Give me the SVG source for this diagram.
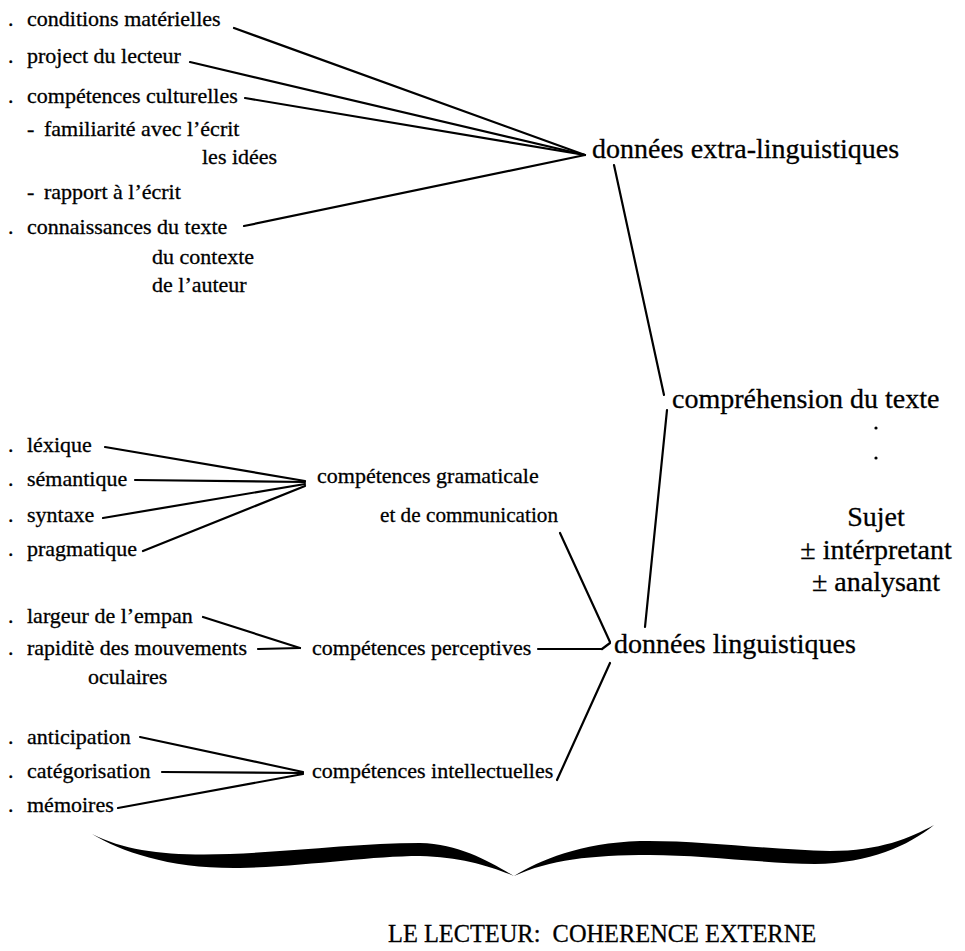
<svg xmlns="http://www.w3.org/2000/svg" width="965" height="951" viewBox="0 0 965 951">
  <style>
    text { font-family: "Liberation Serif", "Times New Roman", serif; fill: #000; stroke: #000; stroke-width: 0.3; }
    .s { font-size: 22px; }
    .b { font-size: 28px; }
    .t { font-size: 24.4px; }
    .c line { stroke: #000; stroke-width: 2.2; stroke-linecap: round; }
  </style>
  <rect width="965" height="951" fill="#fff"/>

  <!-- connectors -->
  <g id="connectors" class="c">
    <!-- extra-linguistic factors -->
    <line x1="234" y1="28" x2="585" y2="155"/>
    <line x1="190" y1="62" x2="585" y2="155"/>
    <line x1="245" y1="98" x2="585" y2="155"/>
    <line x1="244" y1="226" x2="585" y2="155"/>
    <!-- to / from comprehension -->
    <line x1="614" y1="165" x2="664" y2="395"/>
    <line x1="667" y1="410" x2="645" y2="627"/>
    <!-- grammatical competences -->
    <line x1="105" y1="447" x2="305" y2="481"/>
    <line x1="135" y1="480" x2="305" y2="482"/>
    <line x1="103" y1="518" x2="305" y2="484"/>
    <line x1="143" y1="551" x2="305" y2="486"/>
    <line x1="560" y1="533" x2="610" y2="642"/>
    <!-- perceptive competences -->
    <line x1="203" y1="617" x2="300" y2="648"/>
    <line x1="258" y1="649" x2="300" y2="648"/>
    <line x1="538" y1="649" x2="602" y2="649"/>
    <line x1="602" y1="649" x2="610" y2="643"/>
    <!-- intellectual competences -->
    <line x1="140" y1="737" x2="303" y2="772"/>
    <line x1="162" y1="772" x2="303" y2="773"/>
    <line x1="118" y1="808" x2="303" y2="774"/>
    <line x1="557" y1="780" x2="610" y2="663"/>
  </g>

  <!-- extra-linguistic factors -->
  <g id="conditions"><text class="s" x="8" y="26">.<tspan x="27">conditions matérielles</tspan></text></g>
  <g id="projet"><text class="s" x="8" y="63">.<tspan x="27">project du lecteur</tspan></text></g>
  <g id="culturelles">
    <text class="s" x="8" y="103">.<tspan x="27">compétences culturelles</tspan></text>
    <text class="s" x="27" y="136">-<tspan x="44">familiarité avec l’écrit</tspan></text>
    <text class="s" x="202" y="164">les idées</text>
    <text class="s" x="27" y="199">-<tspan x="44">rapport à l’écrit</tspan></text>
  </g>
  <g id="connaissances">
    <text class="s" x="8" y="234">.<tspan x="27">connaissances du texte</tspan></text>
    <text class="s" x="152" y="264">du contexte</text>
    <text class="s" x="152" y="292">de l’auteur</text>
  </g>
  <g id="extra"><text class="b" x="592" y="158">données extra-linguistiques</text></g>

  <!-- comprehension -->
  <g id="comprehension">
    <text class="b" x="672" y="408">compréhension du texte</text>
    <circle cx="876" cy="428" r="1.6"/>
    <circle cx="876" cy="458" r="1.6"/>
  </g>
  <g id="sujet">
    <text class="b" x="876" y="526" text-anchor="middle">Sujet</text>
    <text class="b" x="876" y="559" text-anchor="middle">± intérpretant</text>
    <text class="b" x="876" y="591" text-anchor="middle">± analysant</text>
  </g>

  <!-- grammatical competences -->
  <g id="lexique"><text class="s" x="8" y="452">.<tspan x="27">léxique</tspan></text></g>
  <g id="semantique"><text class="s" x="8" y="486">.<tspan x="27">sémantique</tspan></text></g>
  <g id="syntaxe"><text class="s" x="8" y="522">.<tspan x="27">syntaxe</tspan></text></g>
  <g id="pragmatique"><text class="s" x="8" y="556">.<tspan x="27">pragmatique</tspan></text></g>
  <g id="gramaticale">
    <text class="s" x="317" y="483">compétences gramaticale</text>
    <text class="s" x="380" y="522" textLength="178" lengthAdjust="spacingAndGlyphs">et de communication</text>
  </g>

  <!-- linguistic data -->
  <g id="linguistiques"><text class="b" x="614" y="653">données linguistiques</text></g>

  <!-- perceptive competences -->
  <g id="empan"><text class="s" x="8" y="623">.<tspan x="27">largeur de l’empan</tspan></text></g>
  <g id="rapidite">
    <text class="s" x="8" y="655">.<tspan x="27">rapiditè des mouvements</tspan></text>
    <text class="s" x="88" y="684">oculaires</text>
  </g>
  <g id="perceptives"><text class="s" x="312" y="655">compétences perceptives</text></g>

  <!-- intellectual competences -->
  <g id="anticipation"><text class="s" x="8" y="744">.<tspan x="27">anticipation</tspan></text></g>
  <g id="categorisation"><text class="s" x="8" y="778">.<tspan x="27">catégorisation</tspan></text></g>
  <g id="memoires"><text class="s" x="8" y="812">.<tspan x="27">mémoires</tspan></text></g>
  <g id="intellectuelles"><text class="s" x="312" y="778">compétences intellectuelles</text></g>

  <!-- brace -->
  <g id="brace" fill="#000">
    <path d="M92,834 C128,852 170,856 230,854 C300,851 360,843 420,843 C460,844 490,862 514,876
             C490,866 460,857 420,856 C370,856 310,866 240,868 C170,869 122,852 92,834 Z"/>
    <path d="M514,876 C540,860 580,843 640,841 C700,840 770,850 830,851 C880,851 910,838 934,825
             C908,846 870,863 815,864 C760,863 700,855 650,855 C590,855 550,860 514,876 Z"/>
  </g>

  <!-- title -->
  <g id="titre"><text class="t" x="388" y="942">LE LECTEUR:&#160; COHERENCE EXTERNE</text></g>
</svg>
